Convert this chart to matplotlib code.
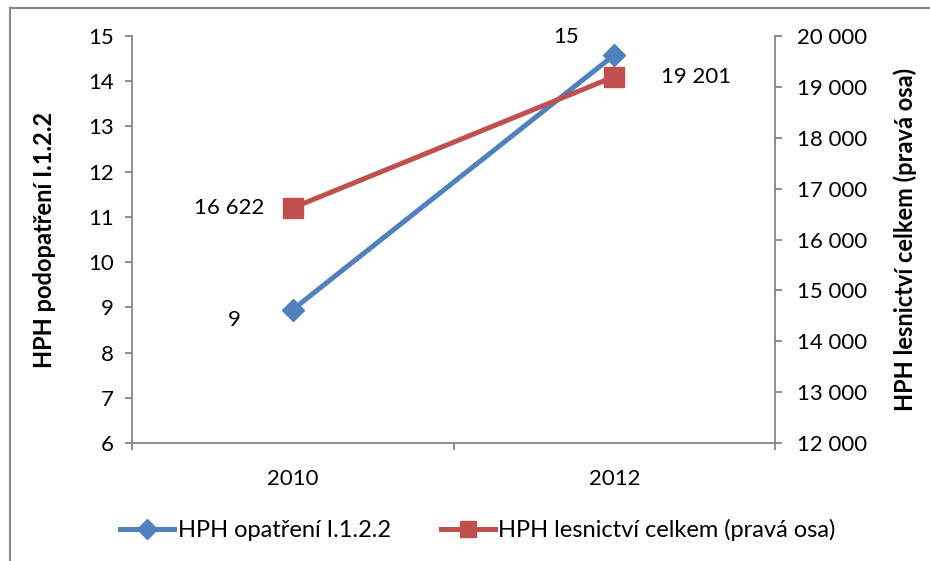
import matplotlib
matplotlib.use("Agg")
import matplotlib.pyplot as plt
from matplotlib.lines import Line2D

plt.rcParams['font.family'] = ['Lato', 'DejaVu Sans']

years = ["2010", "2012"]
measure_vals = [8.95, 14.58]
measure_labels = ["9", "15"]
forestry_vals = [16622, 19201]
forestry_labels = ["16 622", "19 201"]
left_ticks = [6, 7, 8, 9, 10, 11, 12, 13, 14, 15]
right_ticks = [12000, 13000, 14000, 15000, 16000, 17000, 18000, 19000, 20000]
right_tick_labels = ["12 000", "13 000", "14 000", "15 000", "16 000", "17 000", "18 000", "19 000", "20 000"]
series_names = ["HPH opatření I.1.2.2", "HPH lesnictví celkem (pravá osa)"]
left_label = "HPH podopatření I.1.2.2"
right_label = "HPH lesnictví celkem (pravá osa)"

BLUE = "#4F81BD"
RED = "#C0504D"
GRAY = "#868686"
FS = 16

W, H = 930, 561
fig = plt.figure(figsize=(W / 100, H / 100), dpi=100)

# frame lines (top and left)
fig.add_artist(Line2D([10 / W, 1], [1 - 8 / H, 1 - 8 / H], color=GRAY, lw=1.5, transform=fig.transFigure))
fig.add_artist(Line2D([10 / W, 10 / W], [0, 1 - 8 / H], color=GRAY, lw=1.5, transform=fig.transFigure))

x0, x1 = 132, 775
yt, yb = 36, 443
ax = fig.add_axes([x0 / W, 1 - yb / H, (x1 - x0) / W, (yb - yt) / H])
ax2 = ax.twinx()

xs = list(range(len(years)))
ax.set_xlim(-0.5, len(years) - 0.5)
ax.set_ylim(6, 15)
ax2.set_ylim(12000, 20000)

for a in (ax, ax2):
    for s in a.spines.values():
        s.set_visible(False)
ax.spines['left'].set_visible(True)
ax.spines['bottom'].set_visible(True)
ax2.spines['right'].set_visible(True)
for s in (ax.spines['left'], ax.spines['bottom'], ax2.spines['right']):
    s.set_color(GRAY)
    s.set_linewidth(1.3)

ax.set_yticks(left_ticks)
ax.set_yticklabels([str(t) for t in left_ticks], fontsize=FS)
ax.tick_params(axis='y', direction='out', length=5, width=1.3, color=GRAY, pad=8)
ax2.set_yticks(right_ticks)
ax2.set_yticklabels(right_tick_labels, fontsize=FS)
ax2.tick_params(axis='y', direction='out', length=5, width=1.3, color=GRAY, pad=11)

ax.set_xticks(xs)
ax.set_xticklabels(years, fontsize=FS)
ax.tick_params(axis='x', which='major', length=0, pad=19)
ax.set_xticks([-0.5, 0.5, 1.5], minor=True)
ax.tick_params(axis='x', which='minor', direction='out', length=5, width=1.3, color=GRAY)

ax.plot(xs, measure_vals, color=BLUE, lw=3.6, marker='D', ms=11, zorder=3, clip_on=False)
ax2.plot(xs, forestry_vals, color=RED, lw=3.6, marker='s', ms=14, zorder=3, clip_on=False)

ax.annotate(measure_labels[0], (xs[0], measure_vals[0]), xytext=(-58, -10), textcoords='offset pixels',
            ha='center', va='center', fontsize=FS)
ax.annotate(measure_labels[1], (xs[1], measure_vals[1]), xytext=(-48, 18), textcoords='offset pixels',
            ha='center', va='center', fontsize=FS)
ax2.annotate(forestry_labels[0], (xs[0], forestry_vals[0]), xytext=(-64, 0), textcoords='offset pixels',
             ha='center', va='center', fontsize=FS)
ax2.annotate(forestry_labels[1], (xs[1], forestry_vals[1]), xytext=(82, 0), textcoords='offset pixels',
             ha='center', va='center', fontsize=FS)

fig.text(44 / W, 1 - (yt + yb) / 2 / H, left_label, rotation=90, ha='center', va='center',
         fontsize=17, fontweight='bold')
fig.text(905 / W, 1 - (yt + yb) / 2 / H, right_label, rotation=90, ha='center', va='center',
         fontsize=17, fontweight='bold')

h1 = Line2D([], [], color=BLUE, lw=3.6, marker='D', ms=10)
h2 = Line2D([], [], color=RED, lw=3.6, marker='s', ms=12)
fig.legend([h1, h2], series_names, loc='center', bbox_to_anchor=(478 / W, 31 / H), ncol=2,
           frameon=False, fontsize=17, handlelength=2.3, handletextpad=0.15, columnspacing=2.1)

fig.savefig("out.png", dpi=100)
